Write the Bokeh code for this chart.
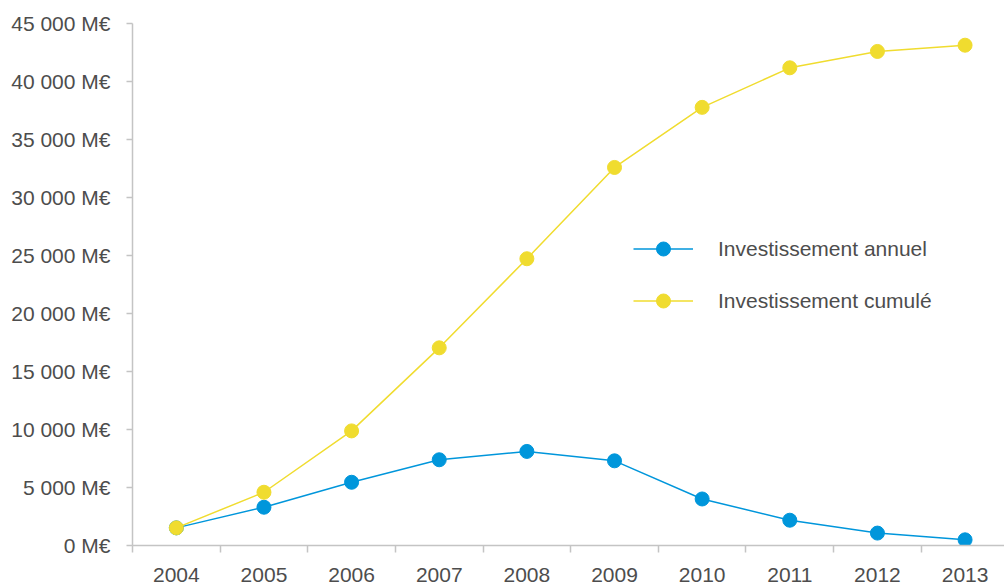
from bokeh.plotting import figure
from bokeh.models import Range1d, FixedTicker, Legend, LegendItem
from bokeh.embed import file_html
from bokeh.resources import INLINE

years = ["2004", "2005", "2006", "2007", "2008", "2009", "2010", "2011", "2012", "2013"]
annuel = [1520, 3300, 5450, 7390, 8110, 7300, 4010, 2180, 1070, 490]
cumule = [1520, 4590, 9880, 17040, 24720, 32590, 37770, 41180, 42590, 43130]
y_ticks = [0, 5000, 10000, 15000, 20000, 25000, 30000, 35000, 40000, 45000]
label_annuel = "Investissement annuel"
label_cumule = "Investissement cumulé"

BLUE = "#0096db"
YELLOW = "#f0dc2f"
AXIS = "#c4c4c4"
TEXT = "#4d4d4d"
FONT = "Liberation Sans"

xs = list(range(len(years)))

p = figure(width=1004, height=584, output_backend="svg", toolbar_location=None,
           x_range=Range1d(-0.5, 9.45), y_range=Range1d(0, 45000),
           min_border_left=132, min_border_right=0, min_border_top=23,
           min_border_bottom=35)
p.outline_line_color = None
p.xgrid.visible = False
p.ygrid.visible = False
p.background_fill_color = "white"
p.border_fill_color = "white"

r1l = p.line(xs, annuel, line_color=BLUE, line_width=1.5)
r1c = p.scatter(xs, annuel, size=14, fill_color=BLUE, line_color=BLUE)
r2l = p.line(xs, cumule, line_color=YELLOW, line_width=1.5)
r2c = p.scatter(xs, cumule, size=14, fill_color=YELLOW, line_color=YELLOW)

# x axis: labels at category centres, tick marks at boundaries
xa = p.xaxis[0]
xa.ticker = FixedTicker(ticks=xs, minor_ticks=[i + 0.5 for i in range(-1, len(years))])
xa.major_label_overrides = {i: y for i, y in enumerate(years)}
xa.major_tick_out = 0
xa.major_tick_in = 0
xa.minor_tick_out = 7
xa.minor_tick_in = 0
xa.minor_tick_line_color = AXIS
xa.minor_tick_line_width = 1.5
xa.axis_line_color = AXIS
xa.axis_line_width = 1.5
xa.major_label_standoff = 15
xa.major_label_text_font = FONT
xa.major_label_text_font_size = "21px"
xa.major_label_text_color = TEXT

ya = p.yaxis[0]
ya.ticker = FixedTicker(ticks=y_ticks)
ya.major_label_overrides = {v: f"{v:,}".replace(",", " ") + " M€" for v in y_ticks}
ya.major_tick_out = 6
ya.major_tick_in = 0
ya.minor_tick_out = 0
ya.minor_tick_in = 0
ya.major_tick_line_color = AXIS
ya.major_tick_line_width = 1.5
ya.axis_line_color = AXIS
ya.axis_line_width = 1.5
ya.major_label_standoff = 16
ya.major_label_text_font = FONT
ya.major_label_text_font_size = "21px"
ya.major_label_text_color = TEXT

legend = Legend(items=[LegendItem(label=label_annuel, renderers=[r1l, r1c]),
                       LegendItem(label=label_cumule, renderers=[r2l, r2c])],
                location=(501, 227))
legend.border_line_color = None
legend.background_fill_alpha = 0
legend.padding = 0
legend.margin = 0
legend.glyph_width = 60
legend.glyph_height = 35
legend.label_height = 21
legend.spacing = 17
legend.label_standoff = 25
legend.label_text_font = FONT
legend.label_text_font_size = "21px"
legend.label_text_color = TEXT
p.add_layout(legend)

open("out.html", "w").write(file_html(p, INLINE))
